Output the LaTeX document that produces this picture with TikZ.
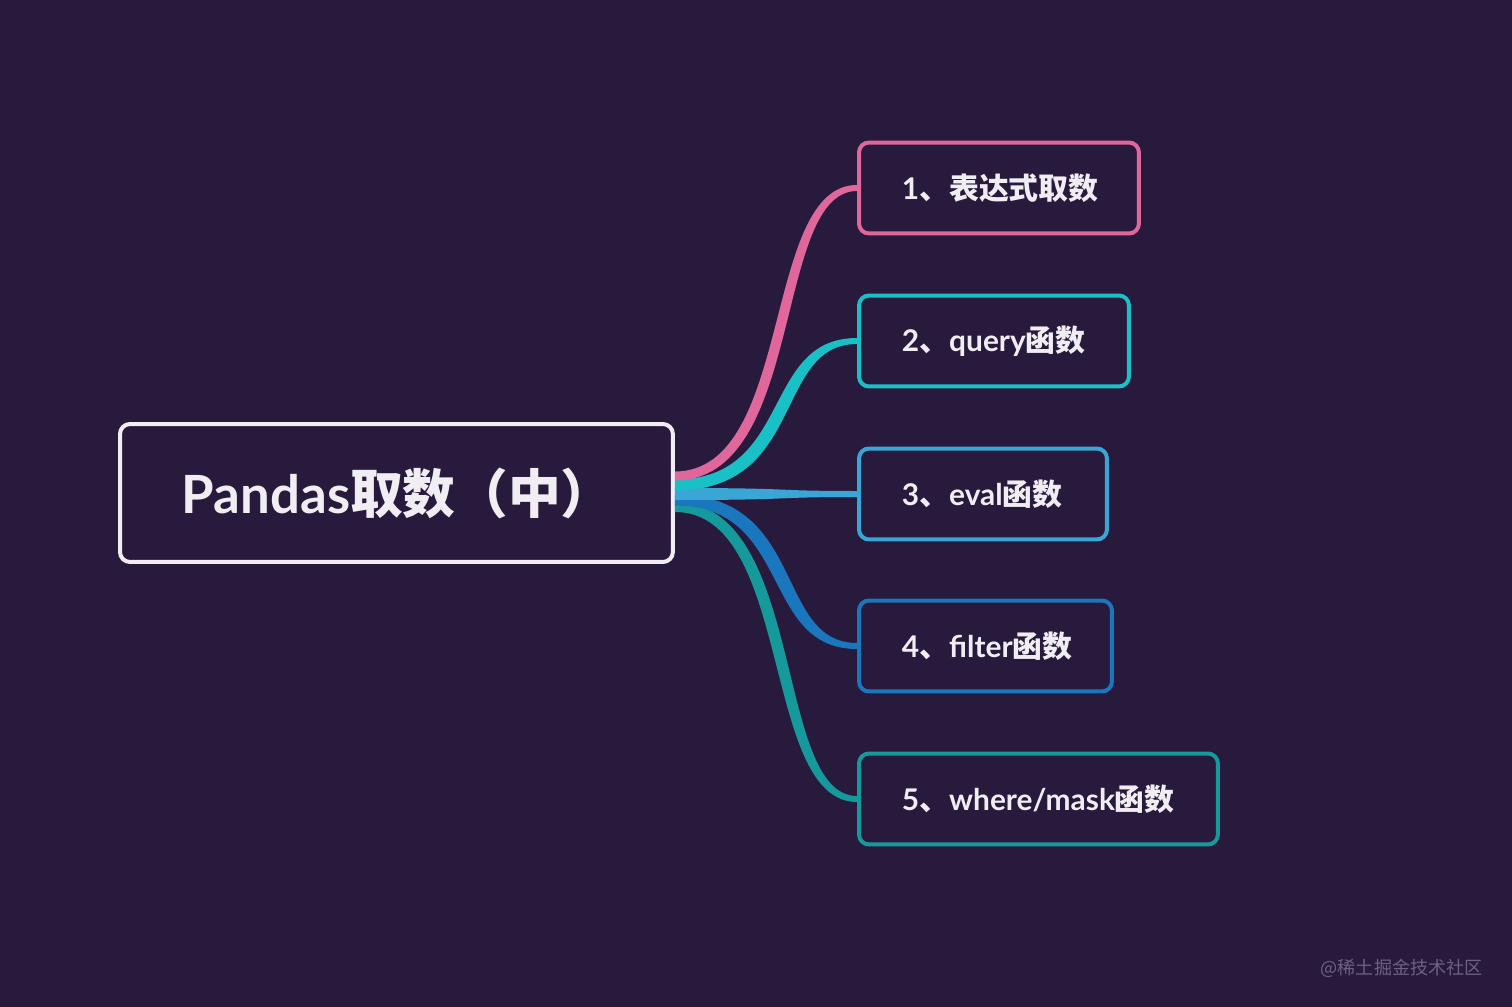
\documentclass[tikz,border=0pt]{standalone}
\usepackage{fontspec}
\usepackage{tikz}
\usetikzlibrary{calc,positioning}
\setmainfont{Lato}
\newfontfamily\cjk{Noto Sans CJK SC}
\definecolor{bgc}{HTML}{281A3C}
\definecolor{pinkc}{HTML}{E0679C}
\definecolor{cyanc}{HTML}{19C0C6}
\definecolor{skyc}{HTML}{3AA6D6}
\definecolor{bluec}{HTML}{1A77BE}
\definecolor{tealc}{HTML}{16999A}
\definecolor{inkc}{HTML}{F1EEF3}
\definecolor{markc}{HTML}{6C6280}
\tikzset{
  rootbox/.style={draw=inkc,line width=0.08cm,rounded corners=0.2cm,fill=bgc,text=inkc,
    minimum height=2.76cm,inner xsep=1.24cm,text width=8.58cm,align=left,anchor=west,
    font=\fontsize{30}{34}\selectfont\bfseries},
  leaf/.style={draw=#1,line width=0.08cm,rounded corners=0.2cm,fill=bgc,text=inkc,
    minimum height=1.82cm,inner xsep=0.86cm,align=left,anchor=west,
    font=\fontsize{17}{20}\selectfont\bfseries}
}
% tapered branch: target, colour, start offset, start half width, bulge
\newcommand{\branch}[5]{%
  \fill[#2] ($(root.east)+(0,#3-#4)$) .. controls +({125+(#5)},0) and +({-90+(#5)},0) .. ($(#1.west)+(0,-3)$)
    -- ($(#1.west)+(0,3)$) .. controls +({-90-(#5)},0) and +({125-(#5)},0) .. ($(root.east)+(0,#3+#4)$) -- cycle;}

\begin{document}
\begin{tikzpicture}[x=0.02cm,y=-0.02cm]
\fill[bgc] (0,0) rectangle (1512,1007);
\useasboundingbox (0,0) rectangle (1512,1007);

\node[rootbox] (root) at (118,493) {Pandas{\cjk 取数（中）}};

\node[leaf=pinkc,text width=3.88cm] (c1) at (857,188) {1{\cjk 、表达式取数}};
\node[leaf=cyanc,text width=3.68cm] (c2) at (857,341) {2{\cjk 、}query{\cjk 函数}};
\node[leaf=skyc,text width=3.24cm] (c3) at (857,494) {3{\cjk 、}eval{\cjk 函数}};
\node[leaf=bluec,text width=3.34cm] (c4) at (857,646) {4{\cjk 、}filter{\cjk 函数}};
\node[leaf=tealc,text width=5.46cm] (c5) at (857,799) {5{\cjk 、}where/mask{\cjk 函数}};

\branch{c5}{tealc}{14}{5}{6.5}
\branch{c4}{bluec}{7}{5.5}{7.2}
\branch{c3}{skyc}{1}{6}{0}
\branch{c2}{cyanc}{-8}{5.5}{-6.5}
\branch{c1}{pinkc}{-17}{4.5}{-5.8}

\node[text=markc,anchor=east,inner sep=0pt,font=\cjk\fontsize{10.3}{12}\selectfont] (mark) at (1483,968) {@稀土掘金技术社区};
\end{tikzpicture}
\end{document}
